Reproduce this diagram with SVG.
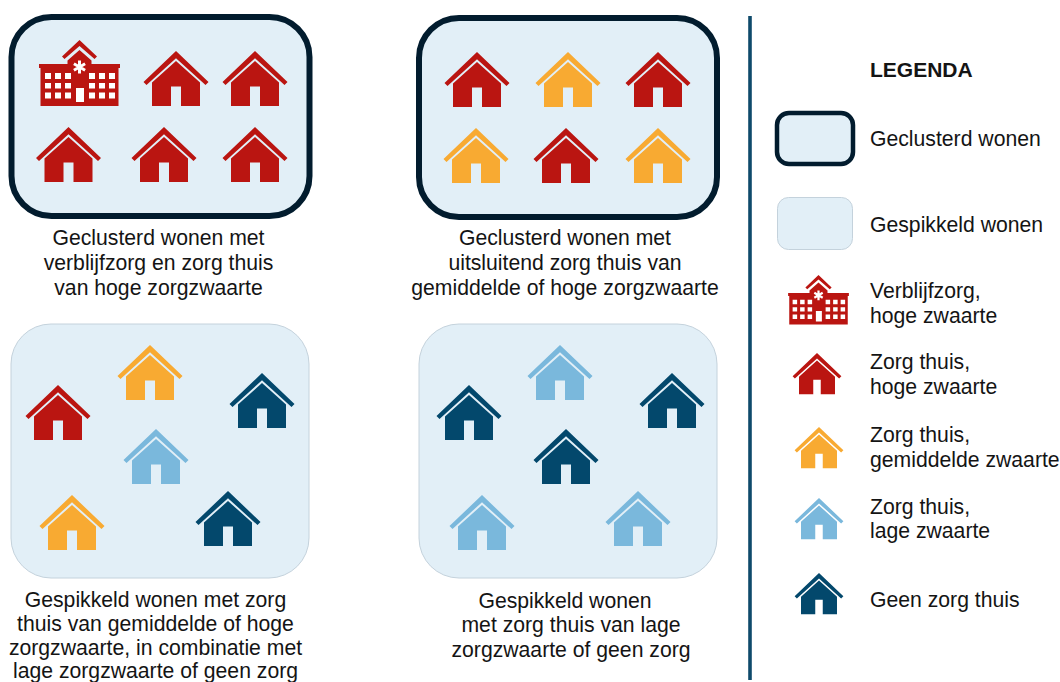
<svg xmlns="http://www.w3.org/2000/svg" width="1060" height="682" viewBox="0 0 1060 682">
<style>
text{font-family:"Liberation Sans",Arial,sans-serif;font-size:21.200px;fill:#141414}
.c{text-anchor:middle}
.b{font-weight:700}
.cl{fill:#E2EFF7;stroke:#021C2E;stroke-width:6}
.sp{fill:#E2EFF7;stroke:#C4D2DC;stroke-width:1}
.r{color:#BA1511}.o{color:#F8AA32}.l{color:#7AB8DC}.n{color:#03486C}
</style>
<defs>
<g id="house">
<path fill="currentColor" d="M0 0L32.500 31L29.500 34L0 7.200L-29.500 34L-32.500 31Z"/>
<path fill="currentColor" d="M0 10L24 31.500V55H5V35.600H-5V55H-24V31.500Z"/>
</g>
<g id="hospital">
<path fill="#BA1511" d="M0 0L17.500 16.500L15 19L0 6L-15 19L-17.500 16.500Z"/>
<path fill="#BA1511" d="M0 10L12 20.500V24H40.500V28H39V66H-39V28H-40.500V24H-12V20.500Z"/>
<g fill="#fff">
<path d="M-34.500 33h6v6h-6zM-24.500 33h6v6h-6zM-14.500 33h6v6h-6zM9.500 33h6v6h-6zM19.500 33h6v6h-6zM29.500 33h6v6h-6zM-34.500 43h6v5.500h-6zM-24.500 43h6v5.500h-6zM-14.500 43h6v5.500h-6zM9.500 43h6v5.500h-6zM19.500 43h6v5.500h-6zM29.500 43h6v5.500h-6zM-34.500 52.500h6v6h-6zM-24.500 52.500h6v6h-6zM-14.500 52.500h6v6h-6zM9.500 52.500h6v6h-6zM19.500 52.500h6v6h-6zM29.500 52.500h6v6h-6zM-3.500 48h8v14h-8z"/>
</g>
<g stroke="#fff" stroke-width="3"><path d="M0 20.500v13M-5.600 23.750l11.200 6.500M-5.600 30.250l11.200-6.500"/></g>
</g>
</defs>

<g id="connectors"><path d="M750 16V680" stroke="#0F4A6B" stroke-width="3.600" fill="none"/></g>

<g id="box-geclusterd-verblijf">
<rect class="cl" x="11.500" y="17" width="298" height="199" rx="40"/>
<use href="#hospital" x="79.500" y="40"/>
<use href="#house" class="r" x="176" y="51"/>
<use href="#house" class="r" x="255" y="51"/>
<use href="#house" class="r" x="68.500" y="127"/>
<use href="#house" class="r" x="164" y="127"/>
<use href="#house" class="r" x="255" y="127"/>
<text class="c" x="158.500" y="245">Geclusterd wonen met</text>
<text class="c" x="158.500" y="270">verblijfzorg en zorg thuis</text>
<text class="c" x="158.500" y="295">van hoge zorgzwaarte</text>
</g>

<g id="box-geclusterd-thuis">
<rect class="cl" x="419" y="18" width="298" height="199" rx="40"/>
<use href="#house" class="r" x="477" y="52"/>
<use href="#house" class="o" x="568" y="52"/>
<use href="#house" class="r" x="658" y="52"/>
<use href="#house" class="o" x="476" y="128"/>
<use href="#house" class="r" x="566" y="128"/>
<use href="#house" class="o" x="658" y="128"/>
<text class="c" x="565" y="245">Geclusterd wonen met</text>
<text class="c" x="565" y="270">uitsluitend zorg thuis van</text>
<text class="c" x="565" y="295">gemiddelde of hoge zorgzwaarte</text>
</g>

<g id="box-gespikkeld-gemengd">
<rect class="sp" x="11" y="324" width="298" height="254" rx="40"/>
<use href="#house" class="r" x="58" y="385"/>
<use href="#house" class="o" x="150" y="345"/>
<use href="#house" class="n" x="262" y="373"/>
<use href="#house" class="l" x="156" y="429"/>
<use href="#house" class="o" x="72" y="495"/>
<use href="#house" class="n" x="228" y="491"/>
<text class="c" x="155.500" y="607">Gespikkeld wonen met zorg</text>
<text class="c" x="155.500" y="631">thuis van gemiddelde of hoge</text>
<text class="c" x="155.500" y="655">zorgzwaarte, in combinatie met</text>
<text class="c" x="155.500" y="677.500">lage zorgzwaarte of geen zorg</text>
</g>

<g id="box-gespikkeld-laag">
<rect class="sp" x="419" y="324" width="298" height="254" rx="40"/>
<use href="#house" class="n" x="469" y="385"/>
<use href="#house" class="l" x="560" y="345"/>
<use href="#house" class="n" x="672" y="373"/>
<use href="#house" class="n" x="566" y="429"/>
<use href="#house" class="l" x="482" y="495"/>
<use href="#house" class="l" x="638" y="491"/>
<text class="c" x="565" y="608">Gespikkeld wonen</text>
<text class="c" x="571" y="632">met zorg thuis van lage</text>
<text class="c" x="571" y="657">zorgzwaarte of geen zorg</text>
</g>

<g id="legend">
<text class="b" x="870" y="77" style="font-size:21px">LEGENDA</text>
<g id="legend-geclusterd"><rect class="cl" style="stroke-width:4.500" x="777" y="113" width="76" height="51" rx="12"/><text x="870" y="146">Geclusterd wonen</text></g>
<g id="legend-gespikkeld"><rect class="sp" x="777.500" y="197.500" width="75" height="52" rx="11"/><text x="870" y="232">Gespikkeld wonen</text></g>
<g id="legend-verblijf"><use href="#hospital" transform="translate(818.500 275) scale(.75)"/><text x="870" y="298">Verblijfzorg,</text><text x="870" y="323">hoge zwaarte</text></g>
<g id="legend-hoog"><use href="#house" class="r" transform="translate(817 353) scale(.75)"/><text x="870" y="369">Zorg thuis,</text><text x="870" y="394">hoge zwaarte</text></g>
<g id="legend-gemiddeld"><use href="#house" class="o" transform="translate(819 427) scale(.75)"/><text x="870" y="442">Zorg thuis,</text><text x="870" y="467">gemiddelde zwaarte</text></g>
<g id="legend-laag"><use href="#house" class="l" transform="translate(819 498) scale(.75)"/><text x="870" y="514">Zorg thuis,</text><text x="870" y="538">lage zwaarte</text></g>
<g id="legend-geen"><use href="#house" class="n" transform="translate(819 573) scale(.75)"/><text x="870" y="607">Geen zorg thuis</text></g>
</g>
</svg>
